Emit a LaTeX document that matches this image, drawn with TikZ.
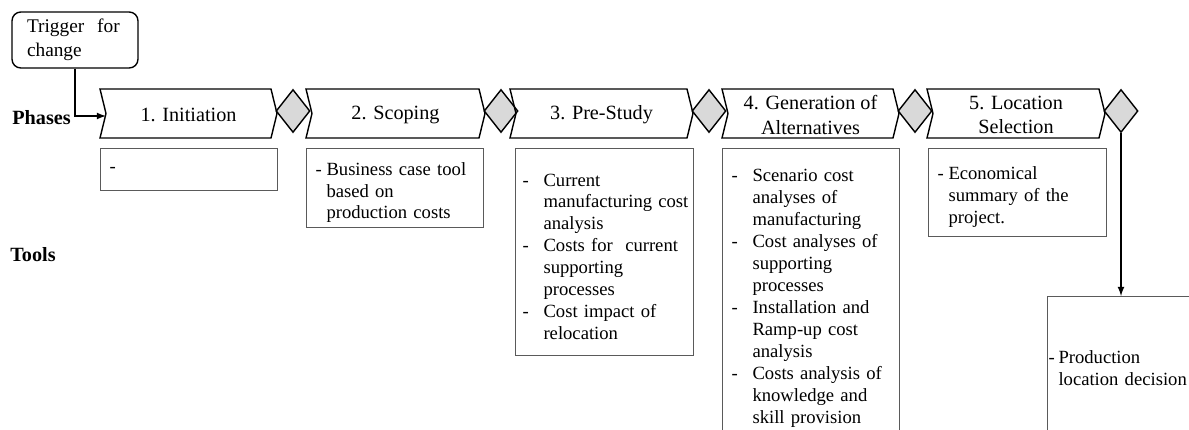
\documentclass[tikz,border=0pt]{standalone}
\usepackage{fontspec}
\setmainfont{Liberation Serif}
\usepackage{xcolor}
\usepackage{tikz}
\usetikzlibrary{shapes, arrows, calc, positioning}
\definecolor{diamondgray}{RGB}{217,217,217}
\definecolor{boxgray}{RGB}{90,90,90}
\newcommand{\tooldash}[2]{\par\noindent\hyphenpenalty=10000\relax\exhyphenpenalty=10000\relax\hangindent=#1\hangafter=1\makebox[#1][l]{-}#2\par}

\begin{document}
\begin{tikzpicture}[x=0.02cm, y=-0.02cm,
		phase/.style={draw=black, line width=0.8pt, line join=miter},
		phaselabel/.style={align=center, inner sep=0pt, font=\fontsize{11.5}{14}\selectfont},
		gate/.style={diamond, draw=black, line width=0.8pt, fill=diamondgray, inner sep=0pt, minimum width=0.68cm, minimum height=0.86cm},
		toolbox/.style={draw=boxgray, line width=0.6pt, anchor=north west, align=left, inner xsep=0.18cm, inner ysep=0pt, font=\fontsize{10.6}{12.5}\selectfont},
		rowlabel/.style={anchor=west, inner sep=0pt, font=\fontsize{11.5}{14}\selectfont\bfseries}]
						\useasboundingbox (0,0) rectangle (1189,429);
						
						\node[draw, rounded corners=5pt, line width=0.8pt, minimum width=2.52cm, minimum height=1.12cm, text width=1.92cm, align=left, inner xsep=0.3cm, font=\fontsize{11}{13.6}\selectfont] (trigger) at (75,40) {Trigger\ \ for\\change};
						\node[rowlabel] (phases) at (12,118) {Phases};
						\node[rowlabel] (tools) at (10,255) {Tools};
						
						\foreach \i/\L/\R/\txt in {1/100/271/{1. Initiation}, 2/306/479/{2. Scoping}, 3/510/687/{3. Pre-Study}, 4/722/893/{4. Generation of\\Alternatives}, 5/927/1099/{5. Location\\Selection}}{
							\draw[phase] (\L,89) -- (\R,89) -- (\R+6,113.5) -- (\R,138) -- (\L,138) -- (\L+6,113.5) -- cycle;
							\node[phaselabel] (ph\i) at ({(\L+\R)/2+3},115) {\txt};
							\node[gate] (d\i) at (\R+22,111) {};
						}
						\coordinate (entry) at (106,116);
						
						\node[toolbox, minimum width=3.54cm, minimum height=0.84cm, text width=3.18cm] (t1) at (100,148) {-};
						\node[toolbox, minimum width=3.54cm, minimum height=1.58cm, text width=3.18cm] (t2) at (306,148) {\tooldash{0.22cm}{Business~case~tool\newline based~on\newline production~costs}};
						\node[toolbox, minimum width=3.56cm, minimum height=4.14cm, text width=3.28cm, inner xsep=0.14cm] (t3) at (515,148) {\tooldash{0.42cm}{Current\newline manufacturing~cost\newline analysis}\tooldash{0.42cm}{Costs~for~~current\newline supporting\newline processes}\tooldash{0.42cm}{Cost~impact~of\newline relocation}};
						\node[toolbox, minimum width=3.54cm, minimum height=5.8cm, text width=3.18cm] (t4) at (722,148) {\tooldash{0.42cm}{Scenario~cost\newline analyses~of\newline manufacturing}\tooldash{0.42cm}{Cost~analyses~of\newline supporting\newline processes}\tooldash{0.42cm}{Installation~and\newline Ramp-up~cost\newline analysis}\tooldash{0.42cm}{Costs~analysis~of\newline knowledge~and\newline skill~provision}};
						\node[toolbox, minimum width=3.56cm, minimum height=1.76cm, text width=3.2cm] (t5) at (928,148) {\tooldash{0.22cm}{Economical\newline summary~of~the\newline project.}};
						\node[toolbox, minimum width=3.2cm, minimum height=2.68cm, text width=3.16cm, inner xsep=0.02cm] (t6) at (1047,296) {\tooldash{0.2cm}{Production\newline location~decision}};
						
						\draw[-latex, line width=0.8pt] (trigger.south) |- (entry);
						\draw[-latex, line width=0.8pt] (d5.south) -- (d5.south |- t6.north);
						\end{tikzpicture}
\end{document}
